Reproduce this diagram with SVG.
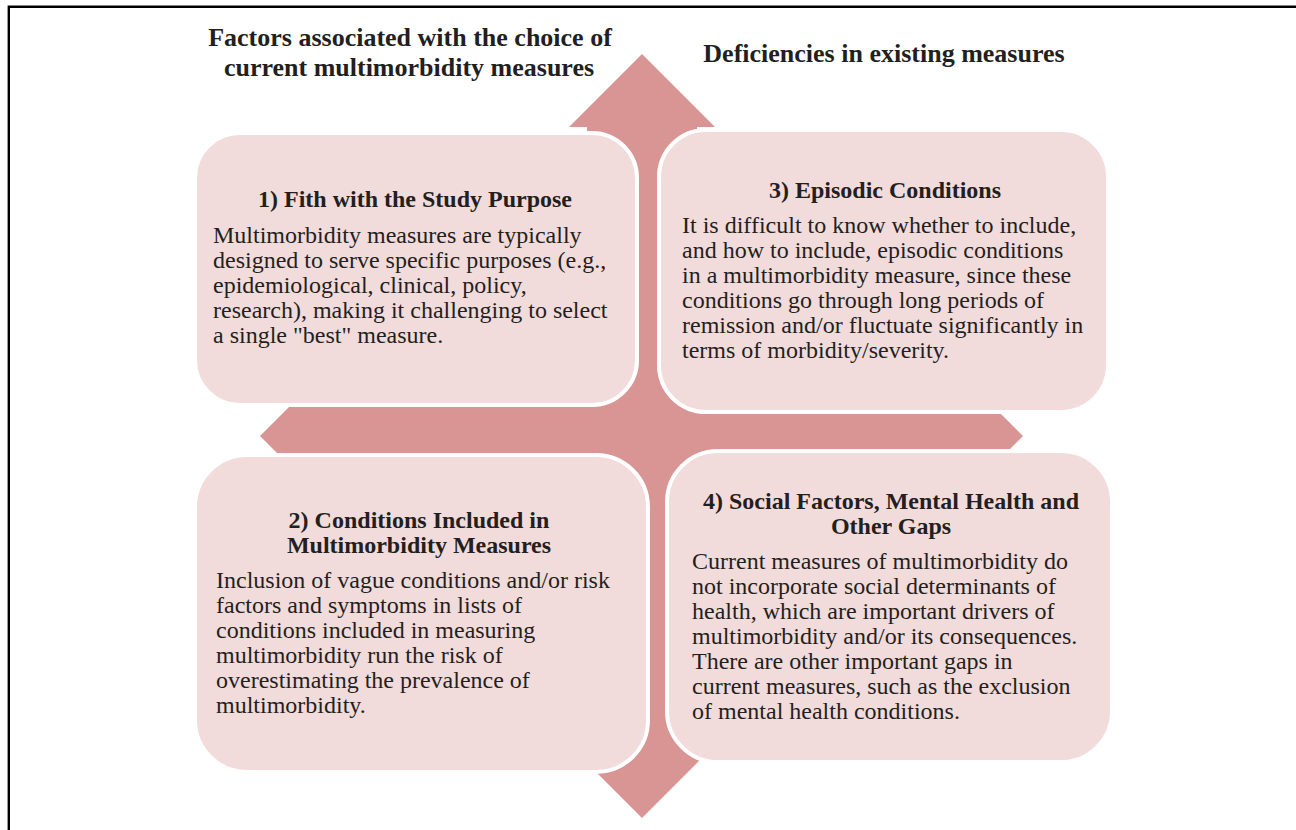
<svg xmlns="http://www.w3.org/2000/svg" width="1296" height="830" viewBox="0 0 1296 830">
<style>
.box{fill:#f2dbdb;stroke:#ffffff;stroke-width:4}
.arrow{fill:#d99594}
.h{font-family:"Liberation Serif","Times New Roman",serif;font-weight:bold;font-size:24px;fill:#231f20;text-anchor:middle}
.b{font-family:"Liberation Serif","Times New Roman",serif;font-size:24px;fill:#231f20}
.t{font-family:"Liberation Serif","Times New Roman",serif;font-weight:bold;font-size:26px;fill:#231f20;text-anchor:middle}
</style>
<rect x="0" y="0" width="1296" height="830" fill="#ffffff"/>
<path d="M8.8,830 V6.8 H1296" fill="none" stroke="#000000" stroke-width="2.4"/>
<g id="titles">
<text class="t" x="410" y="46">Factors associated with the choice of</text>
<text class="t" x="409" y="76">current multimorbidity measures</text>
<text class="t" x="884" y="62">Deficiencies in existing measures</text>
</g>
<g id="connectors">
<path class="arrow" d="M642,54 L715,127 L697,127 L697,381 L950,381 L950,363 L1023,436 L950,509 L950,491 L697,491 L697,745 L715,745 L642,818 L569,745 L587,745 L587,491 L333,491 L333,509 L260,436 L333,363 L333,381 L587,381 L587,127 L569,127 Z"/>
</g>
<g id="node1">
<rect class="box" x="195" y="133" width="442" height="272" rx="45" ry="45"/>
<text class="h" x="415" y="207">1) Fith with the Study Purpose</text>
<text class="b" x="213" y="243">Multimorbidity measures are typically</text>
<text class="b" x="213" y="268">designed to serve specific purposes (e.g.,</text>
<text class="b" x="213" y="293">epidemiological, clinical, policy,</text>
<text class="b" x="213" y="318">research), making it challenging to select</text>
<text class="b" x="213" y="343">a single "best" measure.</text>
</g>
<g id="node3">
<rect class="box" x="659" y="130" width="449" height="282" rx="47" ry="47"/>
<text class="h" x="885" y="198">3) Episodic Conditions</text>
<text class="b" x="682" y="233">It is difficult to know whether to include,</text>
<text class="b" x="682" y="258">and how to include, episodic conditions</text>
<text class="b" x="682" y="283">in a multimorbidity measure, since these</text>
<text class="b" x="682" y="308">conditions go through long periods of</text>
<text class="b" x="682" y="333">remission and/or fluctuate significantly in</text>
<text class="b" x="682" y="358">terms of morbidity/severity.</text>
</g>
<g id="node2">
<rect class="box" x="195" y="455" width="453" height="317" rx="52" ry="52"/>
<text class="h" x="419" y="528">2) Conditions Included in</text>
<text class="h" x="419" y="553">Multimorbidity Measures</text>
<text class="b" x="216" y="588">Inclusion of vague conditions and/or risk</text>
<text class="b" x="216" y="613">factors and symptoms in lists of</text>
<text class="b" x="216" y="638">conditions included in measuring</text>
<text class="b" x="216" y="663">multimorbidity run the risk of</text>
<text class="b" x="216" y="688">overestimating the prevalence of</text>
<text class="b" x="216" y="713">multimorbidity.</text>
</g>
<g id="node4">
<rect class="box" x="667" y="451" width="445" height="311" rx="51" ry="51"/>
<text class="h" x="891" y="509">4) Social Factors, Mental Health and</text>
<text class="h" x="891" y="534">Other Gaps</text>
<text class="b" x="692" y="569">Current measures of multimorbidity do</text>
<text class="b" x="692" y="594">not incorporate social determinants of</text>
<text class="b" x="692" y="619">health, which are important drivers of</text>
<text class="b" x="692" y="644">multimorbidity and/or its consequences.</text>
<text class="b" x="692" y="669">There are other important gaps in</text>
<text class="b" x="692" y="694">current measures, such as the exclusion</text>
<text class="b" x="692" y="719">of mental health conditions.</text>
</g>
</svg>
